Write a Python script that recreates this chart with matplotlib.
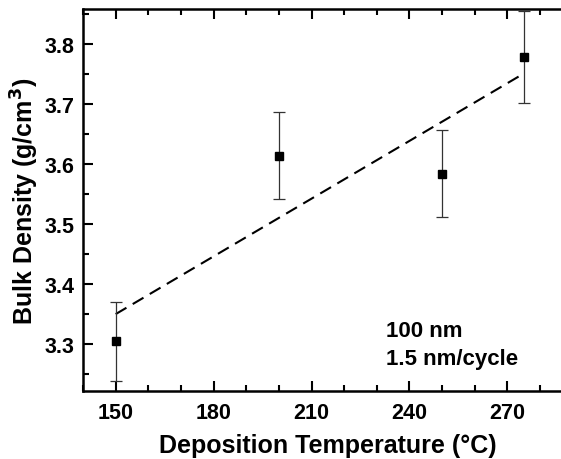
import numpy as np
import matplotlib.pyplot as plt
from matplotlib.ticker import MultipleLocator

plt.rcParams['font.family'] = ['Liberation Sans', 'DejaVu Sans']
plt.rcParams['font.weight'] = 'bold'

# deposition temperature (C) vs bulk density (g/cm3)
temps = [150, 200, 250, 275]
density = [3.305, 3.614, 3.584, 3.778]
density_err = [0.066, 0.072, 0.072, 0.076]
note_lines = ["100 nm", "1.5 nm/cycle"]

fig = plt.figure(figsize=(5.61, 4.6), dpi=100)
ax = fig.add_axes([0.148, 0.1478, 0.8727, 0.8305])

# linear fit through the points
slope, icpt = np.polyfit(temps, density, 1)
xfit = np.array([temps[0], temps[-1]])
ax.plot(xfit, slope * xfit + icpt, color='black', lw=1.5, dashes=(6, 3.5))

ax.errorbar(temps, density, yerr=density_err, fmt='s', color='black',
            ms=6, elinewidth=0.9, ecolor='#333333', capsize=4, capthick=0.9)

ax.text(232.7, 3.314, note_lines[0], fontsize=16, fontweight='bold')
ax.text(232.7, 3.267, note_lines[1], fontsize=16, fontweight='bold')

ax.set_xlim(140, 290)
ax.set_ylim(3.222, 3.858)
ax.set_xticks([150, 180, 210, 240, 270])
ax.xaxis.set_minor_locator(MultipleLocator(10))
ax.yaxis.set_major_locator(MultipleLocator(0.1))
ax.yaxis.set_minor_locator(MultipleLocator(0.05))

ax.tick_params(which='both', direction='in', top=True, right=False, width=1.5,
               labelsize=15.5)
ax.tick_params(axis='x', pad=8)
ax.tick_params(axis='y', pad=6)
ax.tick_params(which='major', length=7)
ax.tick_params(which='minor', length=4)
for lbl in ax.get_xticklabels() + ax.get_yticklabels():
    lbl.set_fontweight('bold')

for s in ['left', 'bottom', 'top']:
    ax.spines[s].set_linewidth(1.8)
ax.spines['right'].set_visible(False)

ax.set_xlabel('Deposition Temperature (\u00b0C)', fontsize=18, fontweight='bold', labelpad=7)
ax.set_ylabel('Bulk Density (g/cm$^\\mathbf{3}$)', fontsize=18, fontweight='bold', labelpad=3)

fig.savefig('out.png', dpi=100)
